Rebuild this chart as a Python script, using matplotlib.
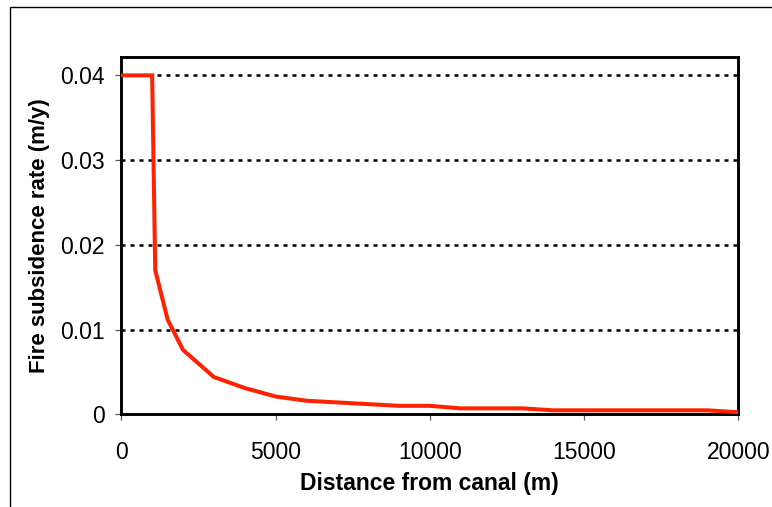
import matplotlib
matplotlib.use('Agg')
import matplotlib.pyplot as plt
from matplotlib.patches import Rectangle

plt.rcParams['font.family'] = ['Liberation Sans', 'DejaVu Sans']

# distance from canal (m) and fire subsidence rate (m/y)
distance = [0, 1000, 1100, 1500, 2000, 3000, 4000, 5000, 6000, 7000, 8000,
            9000, 10000, 11000, 12000, 13000, 14000, 15000, 16000, 17000,
            18000, 19000, 20000]
rate = [0.04, 0.04, 0.017, 0.0112, 0.0076, 0.0044, 0.0031, 0.0021, 0.0016,
        0.0014, 0.0012, 0.001, 0.001, 0.0007, 0.0007, 0.0007, 0.00047,
        0.00047, 0.00047, 0.00047, 0.00047, 0.00047, 0.00024]

x_ticks = [0, 5000, 10000, 15000, 20000]
y_ticks = [0, 0.01, 0.02, 0.03, 0.04]
y_tick_labels = ['0', '0.01', '0.02', '0.03', '0.04']

W, H = 772, 507
fig = plt.figure(figsize=(W / 100, H / 100), dpi=100)

# thin outer frame of the chart object (runs off the right and bottom)
fig.patches.append(Rectangle((10 / W, -0.1), 1, 1.1 - 7 / H, transform=fig.transFigure,
                             fill=False, edgecolor='black', linewidth=1.0))

ax = fig.add_axes([121.3 / W, 1 - 414.3 / H, 617 / W, 357 / H])

ax.plot(distance, rate, color='#FF2200', linewidth=2.9, solid_joinstyle='miter', zorder=3)

ax.set_xlim(0, 20000)
ax.set_ylim(0, 0.04213)
ax.set_xticks(x_ticks)
ax.set_yticks(y_ticks)
ax.set_yticklabels(y_tick_labels)

for y in y_ticks[1:]:
    ax.axhline(y, color='black', linewidth=1.8, linestyle=(0, (1.6, 2.0)), zorder=1)

for s in ax.spines.values():
    s.set_linewidth(2.1)
    s.set_color('black')

ax.tick_params(axis='both', direction='out', length=4, width=0.9, color='#555555',
               labelsize=16.5)
ax.tick_params(axis='y', pad=8)
ax.tick_params(axis='x', pad=15)

ax.set_xlabel('Distance from canal (m)', fontsize=16.5, fontweight='bold', labelpad=6)
ax.set_ylabel('Fire subsidence rate (m/y)', fontsize=16, fontweight='bold', labelpad=7)

fig.savefig('out.png', dpi=100)
